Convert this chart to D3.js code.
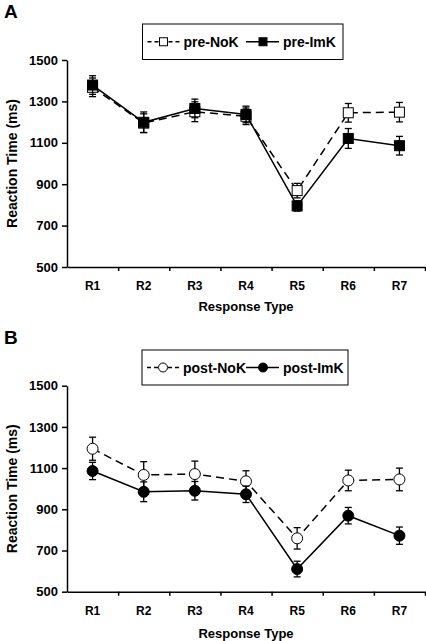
<!DOCTYPE html>
<html><head><meta charset="utf-8">
<script src="https://cdn.jsdelivr.net/npm/d3@7"></script>
<style>
html,body{margin:0;padding:0;background:#fff;}
svg{display:block;}
text{font-family:"Liberation Sans",Arial,sans-serif;font-weight:bold;fill:#000;}
</style></head>
<body>
<svg id="chart" width="426" height="641"></svg>
<script>
const categories = ["R1","R2","R3","R4","R5","R6","R7"];
const yTicks = [500,700,900,1100,1300,1500];
const preNoK     = [1368,1195,1250,1228,869,1245,1248];
const preNoKErr  = [45,45,48,40,35,45,47];
const preImK     = [1379,1199,1266,1237,795,1121,1086];
const preImKErr  = [45,50,45,40,25,48,45];
const postNoK    = [1194,1067,1071,1036,759,1040,1045];
const postNoKErr = [56,64,63,51,52,50,55];
const postImK    = [1086,985,990,973,610,869,772];
const postImKErr = [42,48,45,40,38,40,42];

const svg = d3.select("#chart");
svg.append("rect").attr("width",426).attr("height",641).attr("fill","#fff");

function panel(opt){
  const g = svg.append("g");
  const x0 = 67, x1 = 425;
  const y = d3.scaleLinear().domain([500,1500]).range([opt.yBottom, opt.yTop]);
  const x = d3.scaleBand().domain(categories).range([x0,x1]).padding(0);
  const xi = d3.scaleLinear().domain([0,categories.length]).range([x0,x1]);
  const cx = c => x(c) + x.bandwidth()/2;

  // panel letter
  g.append("text").attr("x",4).attr("y",opt.yTop-42).attr("font-size",19).text(opt.letter);

  // y axis
  const ya = g.append("g").attr("transform",`translate(${x0},0)`)
    .call(d3.axisLeft(y).tickValues(yTicks).tickSize(5).tickPadding(4).tickSizeOuter(0).tickFormat(d3.format("d")));
  ya.selectAll("text").attr("font-size",13).attr("font-family","Liberation Sans, Arial").attr("font-weight","bold");
  ya.selectAll("path,line").attr("stroke","#000").attr("stroke-width",1.5);

  // x axis boundary ticks
  const xa = g.append("g").attr("transform",`translate(0,${opt.yBottom})`)
    .call(d3.axisBottom(xi).tickValues(d3.range(1,categories.length+1)).tickSize(4).tickSizeOuter(0).tickFormat(""));
  xa.selectAll("path,line").attr("stroke","#000").attr("stroke-width",1.5);
  // category labels
  const xl = g.append("g").attr("transform",`translate(0,${opt.yBottom})`)
    .call(d3.axisBottom(x).tickSize(0).tickPadding(opt.labPad));
  xl.select(".domain").remove();
  xl.selectAll("text").attr("font-size",12).attr("font-family","Liberation Sans, Arial").attr("font-weight","bold");

  g.append("text").attr("x",(x0+x1)/2).attr("y",opt.yBottom+opt.titleOff)
    .attr("text-anchor","middle").attr("font-size",13).text("Response Type");
  g.append("text").attr("transform",`translate(17,${(opt.yTop+opt.yBottom)/2}) rotate(-90)`)
    .attr("text-anchor","middle").attr("font-size",14).text("Reaction Time (ms)");

  const line = d3.line().x((d,i)=>cx(categories[i])).y(d=>y(d));

  function series(vals, errs, dashed, filled){
    const sg = g.append("g");
    sg.append("path").datum(vals).attr("d",line).attr("fill","none").attr("stroke","#000")
      .attr("stroke-width",1.5).attr("stroke-dasharray",dashed?"8,5":null);
    const eb = sg.selectAll("g.eb").data(vals).join("g");
    eb.append("line").attr("x1",(d,i)=>cx(categories[i])).attr("x2",(d,i)=>cx(categories[i]))
      .attr("y1",(d,i)=>y(d+errs[i])).attr("y2",(d,i)=>y(d-errs[i])).attr("stroke","#000").attr("stroke-width",1.3);
    [1,-1].forEach(s=>{
      eb.append("line").attr("x1",(d,i)=>cx(categories[i])-3.5).attr("x2",(d,i)=>cx(categories[i])+3.5)
        .attr("y1",(d,i)=>y(d+s*errs[i])).attr("y2",(d,i)=>y(d+s*errs[i])).attr("stroke","#000").attr("stroke-width",1.3);
    });
    if(opt.shape==="square"){
      sg.selectAll("rect.m").data(vals).join("rect")
        .attr("x",(d,i)=>cx(categories[i])-5).attr("y",d=>y(d)-5).attr("width",10).attr("height",10)
        .attr("fill",filled?"#000":"#fff").attr("stroke","#000").attr("stroke-width",1);
    } else {
      sg.selectAll("circle.m").data(vals).join("circle")
        .attr("cx",(d,i)=>cx(categories[i])).attr("cy",d=>y(d)).attr("r",5.5)
        .attr("fill",filled?"#000":"#fff").attr("stroke","#000").attr("stroke-width",1);
    }
  }
  series(opt.a, opt.aErr, true, false);
  series(opt.b, opt.bErr, false, true);

  // legend
  const L = opt.leg;
  const lg = g.append("g");
  lg.append("rect").attr("x",L.x).attr("y",L.y).attr("width",L.w).attr("height",L.h)
    .attr("fill","#fff").attr("stroke","#000").attr("stroke-width",1);
  const cy = L.y + L.h/2;
  function legItem(lx0,lx1,mx,tx,label,dashed,filled){
    lg.append("line").attr("x1",lx0).attr("x2",lx1).attr("y1",cy).attr("y2",cy).attr("stroke","#000")
      .attr("stroke-width",1.5).attr("stroke-dasharray",dashed?"4,3":null);
    if(opt.shape==="square"){
      lg.append("rect").attr("x",mx-4).attr("y",cy-4).attr("width",8).attr("height",8)
        .attr("fill",filled?"#000":"#fff").attr("stroke","#000").attr("stroke-width",1);
    } else {
      lg.append("circle").attr("cx",mx).attr("cy",cy).attr("r",4.5)
        .attr("fill",filled?"#000":"#fff").attr("stroke","#000").attr("stroke-width",1);
    }
    lg.append("text").attr("x",tx).attr("y",cy+5).attr("font-size",14).text(label);
  }
  legItem(L.x+5, L.x+37, L.x+21, L.x+41, opt.aName, true, false);
  legItem(L.i2, L.i2+33, L.i2+17, L.i2+37, opt.bName, false, true);
}

panel({letter:"A", yTop:60, yBottom:267, labPad:14, titleOff:44, shape:"square",
  a:preNoK, aErr:preNoKErr, b:preImK, bErr:preImKErr, aName:"pre-NoK", bName:"pre-ImK",
  leg:{x:142.5,y:24,w:200.5,h:35.5,i2:246}});
panel({letter:"B", yTop:385.7, yBottom:591.7, labPad:15, titleOff:46, shape:"circle",
  a:postNoK, aErr:postNoKErr, b:postImK, bErr:postImKErr, aName:"post-NoK", bName:"post-ImK",
  leg:{x:142,y:350,w:206,h:35,i2:246}});
</script>
</body></html>
